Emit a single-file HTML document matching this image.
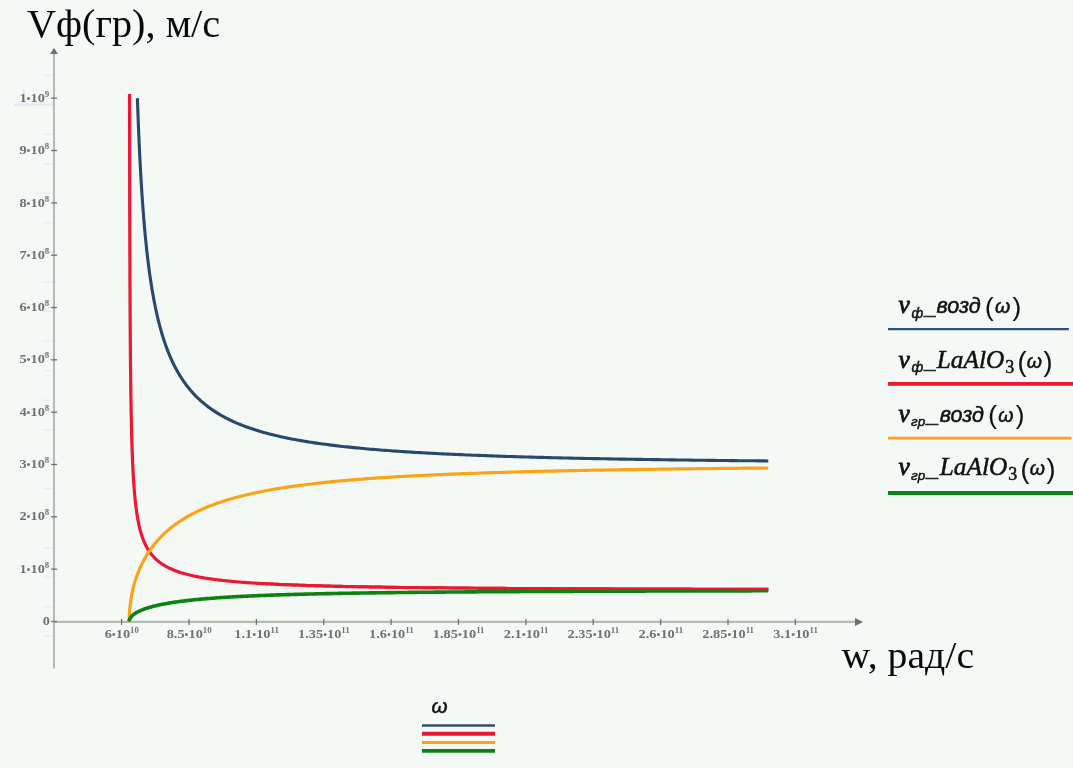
<!DOCTYPE html>
<html lang="ru"><head><meta charset="utf-8"><title>Vф(гр)</title>
<style>
html,body{margin:0;padding:0;background:#f5f9f6;}
body{width:1073px;height:768px;overflow:hidden;position:relative;}
svg{position:absolute;left:0;top:0;display:block;}
.tk{font-family:"Liberation Serif","DejaVu Serif",serif;font-weight:bold;font-size:13.4px;fill:#6f7271;}
.ttl{font-family:"Liberation Serif","DejaVu Serif",serif;fill:#0a0a0a;}
.mi{font-family:"Liberation Serif","DejaVu Serif",serif;font-style:italic;}
.si{font-family:"Liberation Sans","DejaVu Sans",sans-serif;font-style:italic;}
.lg{fill:#111;}
</style></head><body>
<svg width="1073" height="768" viewBox="0 0 1073 768">
<rect x="0" y="0" width="1073" height="768" fill="#f5f9f6"/>

<g stroke="#e6eef5" stroke-width="1.4" fill="none">
<line x1="43" y1="75.3" x2="53" y2="75.3"/>
<line x1="43" y1="134.4" x2="53" y2="134.4"/>
<line x1="43" y1="163.9" x2="53" y2="163.9"/>
<line x1="34" y1="193.4" x2="53" y2="193.4"/>
<line x1="43" y1="222.9" x2="53" y2="222.9"/>
<line x1="43" y1="252.5" x2="53" y2="252.5"/>
<line x1="43" y1="282.0" x2="53" y2="282.0"/>
<line x1="43" y1="311.5" x2="53" y2="311.5"/>
<line x1="43" y1="341.1" x2="53" y2="341.1"/>
<line x1="43" y1="370.6" x2="53" y2="370.6"/>
<line x1="43" y1="400.1" x2="53" y2="400.1"/>
<line x1="43" y1="429.7" x2="53" y2="429.7"/>
<line x1="43" y1="459.2" x2="53" y2="459.2"/>
<line x1="43" y1="488.7" x2="53" y2="488.7"/>
<line x1="43" y1="518.2" x2="53" y2="518.2"/>
<line x1="43" y1="547.8" x2="53" y2="547.8"/>
<line x1="43" y1="577.3" x2="53" y2="577.3"/>
<line x1="43" y1="606.8" x2="53" y2="606.8"/>
<line x1="43" y1="636.4" x2="53" y2="636.4"/>
</g>
<line x1="14" y1="104.6" x2="53" y2="104.6" stroke="#dde8f3" stroke-width="2"/>
<line x1="24" y1="88.5" x2="24" y2="106" stroke="#dde8f3" stroke-width="1.6"/>
<g stroke="#b5bab7" stroke-width="2.05" fill="none">
<line x1="54" y1="54" x2="54" y2="668.5"/>
<line x1="54" y1="621.85" x2="855.5" y2="621.85"/>
</g>
<g stroke="#707371" stroke-width="1.3" fill="none">
<line x1="51.1" y1="621.5" x2="57.1" y2="621.5"/>
<line x1="51.1" y1="569.2" x2="57.1" y2="569.2"/>
<line x1="51.1" y1="516.8" x2="57.1" y2="516.8"/>
<line x1="51.1" y1="464.5" x2="57.1" y2="464.5"/>
<line x1="51.1" y1="412.2" x2="57.1" y2="412.2"/>
<line x1="51.1" y1="359.8" x2="57.1" y2="359.8"/>
<line x1="51.1" y1="307.5" x2="57.1" y2="307.5"/>
<line x1="51.1" y1="255.2" x2="57.1" y2="255.2"/>
<line x1="51.1" y1="202.9" x2="57.1" y2="202.9"/>
<line x1="51.1" y1="150.5" x2="57.1" y2="150.5"/>
<line x1="51.1" y1="98.2" x2="57.1" y2="98.2"/>
<line x1="121.6" y1="619" x2="121.6" y2="624.9"/>
<line x1="189.0" y1="619" x2="189.0" y2="624.9"/>
<line x1="256.4" y1="619" x2="256.4" y2="624.9"/>
<line x1="323.7" y1="619" x2="323.7" y2="624.9"/>
<line x1="391.1" y1="619" x2="391.1" y2="624.9"/>
<line x1="458.5" y1="619" x2="458.5" y2="624.9"/>
<line x1="525.9" y1="619" x2="525.9" y2="624.9"/>
<line x1="593.2" y1="619" x2="593.2" y2="624.9"/>
<line x1="660.6" y1="619" x2="660.6" y2="624.9"/>
<line x1="728.0" y1="619" x2="728.0" y2="624.9"/>
<line x1="795.4" y1="619" x2="795.4" y2="624.9"/>
</g>
<polygon points="54,47.7 57.9,54.1 50.1,54.1" fill="#6c706e"/>
<polygon points="863,621.9 855,618 855,625.9" fill="#6c706e"/>
<text class="tk" transform="translate(49.3,101.8) scale(1.070,1)" text-anchor="end">1<tspan font-size="10.5">•</tspan>10<tspan font-size="8.3" dy="-5">9</tspan></text>
<text class="tk" transform="translate(49.3,154.1) scale(1.070,1)" text-anchor="end">9<tspan font-size="10.5">•</tspan>10<tspan font-size="8.3" dy="-5">8</tspan></text>
<text class="tk" transform="translate(49.3,206.5) scale(1.070,1)" text-anchor="end">8<tspan font-size="10.5">•</tspan>10<tspan font-size="8.3" dy="-5">8</tspan></text>
<text class="tk" transform="translate(49.3,258.8) scale(1.070,1)" text-anchor="end">7<tspan font-size="10.5">•</tspan>10<tspan font-size="8.3" dy="-5">8</tspan></text>
<text class="tk" transform="translate(49.3,311.1) scale(1.070,1)" text-anchor="end">6<tspan font-size="10.5">•</tspan>10<tspan font-size="8.3" dy="-5">8</tspan></text>
<text class="tk" transform="translate(49.3,363.4) scale(1.070,1)" text-anchor="end">5<tspan font-size="10.5">•</tspan>10<tspan font-size="8.3" dy="-5">8</tspan></text>
<text class="tk" transform="translate(49.3,415.8) scale(1.070,1)" text-anchor="end">4<tspan font-size="10.5">•</tspan>10<tspan font-size="8.3" dy="-5">8</tspan></text>
<text class="tk" transform="translate(49.3,468.1) scale(1.070,1)" text-anchor="end">3<tspan font-size="10.5">•</tspan>10<tspan font-size="8.3" dy="-5">8</tspan></text>
<text class="tk" transform="translate(49.3,520.4) scale(1.070,1)" text-anchor="end">2<tspan font-size="10.5">•</tspan>10<tspan font-size="8.3" dy="-5">8</tspan></text>
<text class="tk" transform="translate(49.3,572.8) scale(1.070,1)" text-anchor="end">1<tspan font-size="10.5">•</tspan>10<tspan font-size="8.3" dy="-5">8</tspan></text>
<text class="tk" transform="translate(49.8,624.6) scale(1.070,1)" text-anchor="end">0</text>
<text class="tk" transform="translate(121.8,638.0) scale(1.070,1)" text-anchor="middle">6<tspan font-size="10.5">•</tspan>10<tspan font-size="8.3" dy="-5">10</tspan></text>
<text class="tk" transform="translate(189.2,638.0) scale(1.070,1)" text-anchor="middle">8.5<tspan font-size="10.5">•</tspan>10<tspan font-size="8.3" dy="-5">10</tspan></text>
<text class="tk" transform="translate(256.6,638.0) scale(1.070,1)" text-anchor="middle">1.1<tspan font-size="10.5">•</tspan>10<tspan font-size="8.3" dy="-5">11</tspan></text>
<text class="tk" transform="translate(323.9,638.0) scale(1.070,1)" text-anchor="middle">1.35<tspan font-size="10.5">•</tspan>10<tspan font-size="8.3" dy="-5">11</tspan></text>
<text class="tk" transform="translate(391.3,638.0) scale(1.070,1)" text-anchor="middle">1.6<tspan font-size="10.5">•</tspan>10<tspan font-size="8.3" dy="-5">11</tspan></text>
<text class="tk" transform="translate(458.7,638.0) scale(1.070,1)" text-anchor="middle">1.85<tspan font-size="10.5">•</tspan>10<tspan font-size="8.3" dy="-5">11</tspan></text>
<text class="tk" transform="translate(526.1,638.0) scale(1.070,1)" text-anchor="middle">2.1<tspan font-size="10.5">•</tspan>10<tspan font-size="8.3" dy="-5">11</tspan></text>
<text class="tk" transform="translate(593.4,638.0) scale(1.070,1)" text-anchor="middle">2.35<tspan font-size="10.5">•</tspan>10<tspan font-size="8.3" dy="-5">11</tspan></text>
<text class="tk" transform="translate(660.8,638.0) scale(1.070,1)" text-anchor="middle">2.6<tspan font-size="10.5">•</tspan>10<tspan font-size="8.3" dy="-5">11</tspan></text>
<text class="tk" transform="translate(728.2,638.0) scale(1.070,1)" text-anchor="middle">2.85<tspan font-size="10.5">•</tspan>10<tspan font-size="8.3" dy="-5">11</tspan></text>
<text class="tk" transform="translate(795.6,638.0) scale(1.070,1)" text-anchor="middle">3.1<tspan font-size="10.5">•</tspan>10<tspan font-size="8.3" dy="-5">11</tspan></text>
<g fill="none" stroke-linejoin="round" stroke-linecap="butt">
<path d="M129.53,94.01 L129.53,94.02 L129.53,94.08 L129.53,94.25 L129.53,94.57 L129.53,95.10 L129.53,95.89 L129.54,96.98 L129.54,98.43 L129.54,100.26 L129.54,102.53 L129.55,105.26 L129.55,108.48 L129.55,112.20 L129.56,116.44 L129.57,121.21 L129.57,126.49 L129.58,132.27 L129.59,138.54 L129.60,145.27 L129.61,152.43 L129.63,159.97 L129.64,167.86 L129.65,176.05 L129.67,184.49 L129.69,193.14 L129.71,201.96 L129.73,210.89 L129.75,219.89 L129.78,228.93 L129.80,237.96 L129.83,246.95 L129.86,255.87 L129.89,264.70 L129.92,273.40 L129.96,281.97 L130.00,290.38 L130.04,298.62 L130.08,306.67 L130.12,314.54 L130.17,322.21 L130.22,329.67 L130.27,336.93 L130.33,343.99 L130.38,350.84 L130.44,357.48 L130.50,363.92 L130.57,370.17 L130.64,376.21 L130.71,382.07 L130.78,387.73 L130.86,393.22 L130.94,398.52 L131.02,403.65 L131.10,408.62 L131.19,413.42 L131.29,418.07 L131.38,422.56 L131.48,426.90 L131.58,431.11 L131.69,435.17 L131.80,439.11 L131.91,442.92 L132.03,446.60 L132.15,450.17 L132.27,453.63 L132.40,456.97 L132.53,460.21 L132.67,463.35 L132.81,466.39 L132.96,469.34 L133.10,472.19 L133.26,474.96 L133.42,477.65 L133.58,480.25 L133.74,482.78 L133.91,485.23 L134.09,487.61 L134.27,489.92 L134.45,492.16 L134.64,494.34 L134.84,496.46 L135.04,498.52 L135.24,500.52 L135.45,502.46 L135.66,504.35 L135.88,506.19 L136.10,507.97 L136.33,509.71 L136.57,511.41 L136.81,513.05 L137.05,514.66 L137.30,516.22 L137.56,517.74 L137.82,519.22 L138.09,520.66 L138.36,522.07 L138.64,523.44 L138.93,524.77 L139.22,526.08 L139.51,527.35 L139.82,528.59 L140.12,529.79 L140.44,530.97 L140.76,532.12 L141.09,533.25 L141.42,534.34 L141.76,535.41 L142.11,536.46 L142.46,537.48 L142.82,538.48 L143.18,539.45 L143.55,540.40 L143.93,541.33 L144.32,542.24 L144.71,543.13 L145.11,544.00 L145.52,544.85 L145.93,545.68 L146.35,546.49 L146.78,547.28 L147.21,548.06 L147.66,548.82 L148.11,549.56 L148.56,550.29 L149.03,551.00 L149.50,551.70 L149.98,552.38 L150.46,553.05 L150.96,553.71 L151.46,554.35 L151.97,554.97 L152.49,555.59 L153.01,556.19 L153.55,556.78 L154.09,557.36 L154.64,557.93 L155.20,558.48 L155.76,559.02 L156.34,559.56 L156.92,560.08 L157.51,560.59 L158.11,561.09 L158.72,561.59 L159.33,562.07 L159.96,562.54 L160.59,563.01 L161.24,563.46 L161.89,563.91 L162.55,564.34 L163.22,564.77 L163.90,565.20 L164.58,565.61 L165.28,566.02 L165.98,566.41 L166.70,566.80 L167.42,567.19 L168.16,567.56 L168.90,567.93 L169.65,568.30 L170.41,568.65 L171.19,569.00 L171.97,569.34 L172.76,569.68 L173.56,570.01 L174.37,570.34 L175.19,570.66 L176.02,570.97 L176.86,571.28 L177.71,571.58 L178.57,571.88 L179.44,572.17 L180.32,572.45 L181.21,572.74 L182.11,573.01 L183.02,573.28 L183.95,573.55 L184.88,573.81 L185.82,574.07 L186.78,574.32 L187.74,574.57 L188.72,574.82 L189.70,575.06 L190.70,575.29 L191.71,575.52 L192.73,575.75 L193.76,575.98 L194.80,576.20 L195.85,576.41 L196.92,576.63 L197.99,576.84 L199.08,577.04 L200.18,577.24 L201.28,577.44 L202.41,577.64 L203.54,577.83 L204.68,578.02 L205.84,578.21 L207.01,578.39 L208.19,578.57 L209.38,578.75 L210.58,578.92 L211.80,579.09 L213.03,579.26 L214.27,579.42 L215.52,579.59 L216.78,579.75 L218.06,579.90 L219.35,580.06 L220.65,580.21 L221.96,580.36 L223.29,580.51 L224.63,580.65 L225.98,580.80 L227.35,580.94 L228.72,581.07 L230.12,581.21 L231.52,581.34 L232.94,581.47 L234.36,581.60 L235.81,581.73 L237.26,581.86 L238.73,581.98 L240.21,582.10 L241.71,582.22 L243.22,582.34 L244.74,582.45 L246.28,582.57 L247.83,582.68 L249.39,582.79 L250.97,582.90 L252.56,583.00 L254.16,583.11 L255.78,583.21 L257.41,583.31 L259.06,583.41 L260.72,583.51 L262.40,583.61 L264.09,583.70 L265.79,583.80 L267.51,583.89 L269.24,583.98 L270.98,584.07 L272.75,584.16 L274.52,584.25 L276.31,584.33 L278.12,584.42 L279.93,584.50 L281.77,584.58 L283.62,584.66 L285.48,584.74 L287.36,584.82 L289.25,584.89 L291.16,584.97 L293.09,585.04 L295.03,585.12 L296.98,585.19 L298.95,585.26 L300.94,585.33 L302.94,585.40 L304.95,585.46 L306.99,585.53 L309.03,585.60 L311.10,585.66 L313.18,585.72 L315.27,585.79 L317.38,585.85 L319.51,585.91 L321.65,585.97 L323.81,586.03 L325.98,586.09 L328.17,586.14 L330.38,586.20 L332.60,586.25 L334.84,586.31 L337.10,586.36 L339.37,586.42 L341.66,586.47 L343.97,586.52 L346.29,586.57 L348.63,586.62 L350.99,586.67 L353.36,586.72 L355.75,586.76 L358.15,586.81 L360.58,586.86 L363.02,586.90 L365.48,586.95 L367.95,586.99 L370.44,587.03 L372.95,587.08 L375.48,587.12 L378.02,587.16 L380.59,587.20 L383.17,587.24 L385.76,587.28 L388.38,587.32 L391.01,587.36 L393.66,587.40 L396.33,587.43 L399.01,587.47 L401.72,587.51 L404.44,587.54 L407.18,587.58 L409.94,587.61 L412.71,587.65 L415.51,587.68 L418.32,587.71 L421.15,587.75 L424.00,587.78 L426.87,587.81 L429.76,587.84 L432.66,587.87 L435.59,587.90 L438.53,587.93 L441.49,587.96 L444.47,587.99 L447.47,588.02 L450.49,588.05 L453.53,588.07 L456.58,588.10 L459.66,588.13 L462.75,588.15 L465.87,588.18 L469.00,588.21 L472.15,588.23 L475.33,588.26 L478.52,588.28 L481.73,588.31 L484.96,588.33 L488.21,588.35 L491.48,588.38 L494.77,588.40 L498.08,588.42 L501.41,588.44 L504.76,588.47 L508.13,588.49 L511.52,588.51 L514.93,588.53 L518.36,588.55 L521.82,588.57 L525.29,588.59 L528.78,588.61 L532.29,588.63 L535.82,588.65 L539.38,588.67 L542.95,588.69 L546.55,588.71 L550.16,588.72 L553.80,588.74 L557.46,588.76 L561.14,588.78 L564.83,588.79 L568.56,588.81 L572.30,588.83 L576.06,588.84 L579.84,588.86 L583.65,588.88 L587.48,588.89 L591.32,588.91 L595.19,588.92 L599.09,588.94 L603.00,588.95 L606.93,588.97 L610.89,588.98 L614.87,589.00 L618.87,589.01 L622.89,589.02 L626.93,589.04 L631.00,589.05 L635.09,589.07 L639.20,589.08 L643.33,589.09 L647.48,589.10 L651.66,589.12 L655.86,589.13 L660.08,589.14 L664.33,589.15 L668.59,589.17 L672.88,589.18 L677.20,589.19 L681.53,589.20 L685.89,589.21 L690.27,589.22 L694.67,589.23 L699.10,589.24 L703.55,589.25 L708.02,589.27 L712.52,589.28 L717.04,589.29 L721.58,589.30 L726.15,589.31 L730.74,589.32 L735.35,589.33 L739.98,589.34 L744.64,589.34 L749.33,589.35 L754.04,589.36 L758.77,589.37 L763.52,589.38 L768.30,589.39" stroke="#ea1833" stroke-width="3.2"/>
<path d="M129.23,621.50 L129.23,621.45 L129.23,621.35 L129.23,621.22 L129.23,621.07 L129.23,620.90 L129.23,620.71 L129.24,620.50 L129.24,620.28 L129.24,620.04 L129.24,619.80 L129.25,619.53 L129.25,619.26 L129.25,618.97 L129.26,618.68 L129.27,618.37 L129.27,618.05 L129.28,617.72 L129.29,617.38 L129.30,617.04 L129.31,616.68 L129.32,616.31 L129.34,615.94 L129.35,615.56 L129.37,615.16 L129.39,614.77 L129.41,614.36 L129.43,613.94 L129.45,613.52 L129.48,613.09 L129.50,612.65 L129.53,612.21 L129.56,611.75 L129.59,611.30 L129.62,610.83 L129.66,610.36 L129.70,609.88 L129.74,609.39 L129.78,608.90 L129.82,608.40 L129.87,607.90 L129.92,607.39 L129.97,606.87 L130.03,606.35 L130.08,605.82 L130.14,605.29 L130.20,604.75 L130.27,604.21 L130.34,603.66 L130.41,603.10 L130.48,602.54 L130.56,601.98 L130.64,601.41 L130.72,600.83 L130.80,600.25 L130.89,599.67 L130.99,599.08 L131.08,598.49 L131.18,597.89 L131.28,597.29 L131.39,596.68 L131.50,596.07 L131.61,595.45 L131.73,594.83 L131.85,594.21 L131.97,593.58 L132.10,592.95 L132.24,592.32 L132.37,591.68 L132.51,591.04 L132.66,590.39 L132.81,589.75 L132.96,589.09 L133.12,588.44 L133.28,587.78 L133.44,587.12 L133.62,586.46 L133.79,585.79 L133.97,585.12 L134.16,584.45 L134.34,583.77 L134.54,583.09 L134.74,582.41 L134.94,581.73 L135.15,581.05 L135.36,580.36 L135.58,579.67 L135.81,578.98 L136.04,578.29 L136.27,577.59 L136.51,576.89 L136.76,576.19 L137.01,575.49 L137.26,574.79 L137.53,574.09 L137.79,573.38 L138.07,572.68 L138.35,571.97 L138.63,571.26 L138.92,570.55 L139.22,569.84 L139.52,569.13 L139.83,568.42 L140.14,567.71 L140.46,566.99 L140.79,566.28 L141.12,565.57 L141.46,564.85 L141.81,564.14 L142.16,563.42 L142.52,562.71 L142.89,561.99 L143.26,561.28 L143.64,560.56 L144.03,559.85 L144.42,559.13 L144.82,558.42 L145.22,557.70 L145.64,556.99 L146.06,556.28 L146.49,555.56 L146.92,554.85 L147.36,554.14 L147.81,553.43 L148.27,552.72 L148.73,552.02 L149.21,551.31 L149.69,550.60 L150.17,549.90 L150.67,549.20 L151.17,548.50 L151.68,547.80 L152.20,547.10 L152.72,546.40 L153.26,545.71 L153.80,545.02 L154.35,544.32 L154.91,543.64 L155.47,542.95 L156.05,542.26 L156.63,541.58 L157.22,540.90 L157.82,540.22 L158.43,539.55 L159.05,538.87 L159.67,538.20 L160.31,537.53 L160.95,536.86 L161.60,536.20 L162.26,535.54 L162.93,534.88 L163.61,534.23 L164.30,533.57 L165.00,532.92 L165.70,532.28 L166.42,531.63 L167.14,530.99 L167.87,530.35 L168.62,529.72 L169.37,529.09 L170.13,528.46 L170.90,527.83 L171.69,527.21 L172.48,526.59 L173.28,525.98 L174.09,525.37 L174.91,524.76 L175.74,524.15 L176.58,523.55 L177.43,522.95 L178.29,522.36 L179.16,521.77 L180.04,521.18 L180.93,520.60 L181.84,520.02 L182.75,519.44 L183.67,518.87 L184.60,518.30 L185.55,517.74 L186.50,517.18 L187.47,516.62 L188.44,516.07 L189.43,515.52 L190.43,514.97 L191.44,514.43 L192.46,513.89 L193.49,513.36 L194.53,512.83 L195.58,512.31 L196.65,511.78 L197.72,511.27 L198.81,510.75 L199.91,510.24 L201.02,509.74 L202.14,509.24 L203.27,508.74 L204.42,508.25 L205.57,507.76 L206.74,507.27 L207.92,506.79 L209.12,506.31 L210.32,505.84 L211.54,505.37 L212.76,504.91 L214.00,504.45 L215.26,503.99 L216.52,503.54 L217.80,503.09 L219.09,502.64 L220.39,502.20 L221.71,501.77 L223.03,501.34 L224.37,500.91 L225.73,500.48 L227.09,500.06 L228.47,499.65 L229.86,499.23 L231.27,498.82 L232.68,498.42 L234.11,498.02 L235.56,497.62 L237.01,497.23 L238.48,496.84 L239.97,496.45 L241.46,496.07 L242.97,495.70 L244.50,495.32 L246.03,494.95 L247.58,494.59 L249.15,494.22 L250.72,493.87 L252.32,493.51 L253.92,493.16 L255.54,492.81 L257.17,492.47 L258.82,492.13 L260.48,491.79 L262.16,491.46 L263.85,491.13 L265.55,490.80 L267.27,490.48 L269.00,490.16 L270.75,489.85 L272.51,489.54 L274.29,489.23 L276.08,488.92 L277.88,488.62 L279.70,488.32 L281.54,488.03 L283.39,487.74 L285.25,487.45 L287.13,487.16 L289.03,486.88 L290.94,486.60 L292.86,486.33 L294.80,486.06 L296.76,485.79 L298.73,485.52 L300.72,485.26 L302.72,485.00 L304.74,484.74 L306.77,484.49 L308.82,484.24 L310.88,483.99 L312.96,483.74 L315.06,483.50 L317.17,483.26 L319.30,483.03 L321.44,482.79 L323.60,482.56 L325.78,482.34 L327.97,482.11 L330.18,481.89 L332.40,481.67 L334.64,481.45 L336.90,481.24 L339.17,481.03 L341.46,480.82 L343.77,480.61 L346.09,480.41 L348.43,480.20 L350.79,480.00 L353.16,479.81 L355.55,479.61 L357.96,479.42 L360.39,479.23 L362.83,479.05 L365.29,478.86 L367.76,478.68 L370.26,478.50 L372.77,478.32 L375.29,478.15 L377.84,477.97 L380.40,477.80 L382.98,477.63 L385.58,477.47 L388.20,477.30 L390.83,477.14 L393.48,476.98 L396.15,476.82 L398.84,476.66 L401.54,476.51 L404.27,476.36 L407.01,476.20 L409.77,476.06 L412.54,475.91 L415.34,475.76 L418.15,475.62 L420.99,475.48 L423.84,475.34 L426.71,475.20 L429.60,475.07 L432.50,474.93 L435.43,474.80 L438.37,474.67 L441.34,474.54 L444.32,474.41 L447.32,474.29 L450.34,474.16 L453.38,474.04 L456.43,473.92 L459.51,473.80 L462.61,473.68 L465.72,473.57 L468.86,473.45 L472.01,473.34 L475.19,473.23 L478.38,473.12 L481.59,473.01 L484.83,472.90 L488.08,472.80 L491.35,472.69 L494.64,472.59 L497.95,472.49 L501.29,472.39 L504.64,472.29 L508.01,472.19 L511.40,472.09 L514.81,472.00 L518.25,471.90 L521.70,471.81 L525.17,471.72 L528.67,471.63 L532.18,471.54 L535.71,471.45 L539.27,471.36 L542.85,471.28 L546.44,471.19 L550.06,471.11 L553.70,471.03 L557.36,470.95 L561.04,470.87 L564.74,470.79 L568.46,470.71 L572.20,470.63 L575.97,470.56 L579.76,470.48 L583.56,470.41 L587.39,470.33 L591.24,470.26 L595.11,470.19 L599.01,470.12 L602.92,470.05 L606.86,469.98 L610.82,469.92 L614.80,469.85 L618.80,469.78 L622.82,469.72 L626.87,469.65 L630.93,469.59 L635.02,469.53 L639.14,469.47 L643.27,469.41 L647.43,469.35 L651.61,469.29 L655.81,469.23 L660.03,469.17 L664.28,469.11 L668.55,469.06 L672.84,469.00 L677.15,468.95 L681.49,468.89 L685.85,468.84 L690.23,468.79 L694.64,468.74 L699.07,468.68 L703.52,468.63 L707.99,468.58 L712.49,468.54 L717.01,468.49 L721.56,468.44 L726.13,468.39 L730.72,468.34 L735.33,468.30 L739.97,468.25 L744.63,468.21 L749.32,468.16 L754.03,468.12 L758.76,468.08 L763.52,468.03 L768.30,467.99" stroke="#fba516" stroke-width="3.2"/>
<path d="M129.23,621.50 L129.23,621.49 L129.23,621.47 L129.23,621.44 L129.23,621.41 L129.23,621.38 L129.23,621.34 L129.24,621.30 L129.24,621.26 L129.24,621.21 L129.24,621.16 L129.25,621.11 L129.25,621.05 L129.25,620.99 L129.26,620.94 L129.27,620.87 L129.27,620.81 L129.28,620.74 L129.29,620.68 L129.30,620.61 L129.31,620.54 L129.32,620.46 L129.34,620.39 L129.35,620.31 L129.37,620.23 L129.39,620.15 L129.41,620.07 L129.43,619.99 L129.45,619.90 L129.48,619.82 L129.50,619.73 L129.53,619.64 L129.56,619.55 L129.59,619.46 L129.62,619.37 L129.66,619.27 L129.70,619.18 L129.74,619.08 L129.78,618.98 L129.82,618.88 L129.87,618.78 L129.92,618.68 L129.97,618.57 L130.03,618.47 L130.08,618.36 L130.14,618.26 L130.20,618.15 L130.27,618.04 L130.34,617.93 L130.41,617.82 L130.48,617.71 L130.56,617.60 L130.64,617.48 L130.72,617.37 L130.80,617.25 L130.89,617.13 L130.99,617.02 L131.08,616.90 L131.18,616.78 L131.28,616.66 L131.39,616.54 L131.50,616.41 L131.61,616.29 L131.73,616.17 L131.85,616.04 L131.97,615.92 L132.10,615.79 L132.24,615.66 L132.37,615.54 L132.51,615.41 L132.66,615.28 L132.81,615.15 L132.96,615.02 L133.12,614.89 L133.28,614.76 L133.44,614.62 L133.62,614.49 L133.79,614.36 L133.97,614.22 L134.16,614.09 L134.34,613.95 L134.54,613.82 L134.74,613.68 L134.94,613.55 L135.15,613.41 L135.36,613.27 L135.58,613.13 L135.81,613.00 L136.04,612.86 L136.27,612.72 L136.51,612.58 L136.76,612.44 L137.01,612.30 L137.26,612.16 L137.53,612.02 L137.79,611.88 L138.07,611.74 L138.35,611.59 L138.63,611.45 L138.92,611.31 L139.22,611.17 L139.52,611.03 L139.83,610.88 L140.14,610.74 L140.46,610.60 L140.79,610.46 L141.12,610.31 L141.46,610.17 L141.81,610.03 L142.16,609.88 L142.52,609.74 L142.89,609.60 L143.26,609.46 L143.64,609.31 L144.03,609.17 L144.42,609.03 L144.82,608.88 L145.22,608.74 L145.64,608.60 L146.06,608.46 L146.49,608.31 L146.92,608.17 L147.36,608.03 L147.81,607.89 L148.27,607.74 L148.73,607.60 L149.21,607.46 L149.69,607.32 L150.17,607.18 L150.67,607.04 L151.17,606.90 L151.68,606.76 L152.20,606.62 L152.72,606.48 L153.26,606.34 L153.80,606.20 L154.35,606.06 L154.91,605.93 L155.47,605.79 L156.05,605.65 L156.63,605.52 L157.22,605.38 L157.82,605.24 L158.43,605.11 L159.05,604.97 L159.67,604.84 L160.31,604.71 L160.95,604.57 L161.60,604.44 L162.26,604.31 L162.93,604.18 L163.61,604.05 L164.30,603.91 L165.00,603.78 L165.70,603.66 L166.42,603.53 L167.14,603.40 L167.87,603.27 L168.62,603.14 L169.37,603.02 L170.13,602.89 L170.90,602.77 L171.69,602.64 L172.48,602.52 L173.28,602.40 L174.09,602.27 L174.91,602.15 L175.74,602.03 L176.58,601.91 L177.43,601.79 L178.29,601.67 L179.16,601.55 L180.04,601.44 L180.93,601.32 L181.84,601.20 L182.75,601.09 L183.67,600.97 L184.60,600.86 L185.55,600.75 L186.50,600.64 L187.47,600.52 L188.44,600.41 L189.43,600.30 L190.43,600.19 L191.44,600.09 L192.46,599.98 L193.49,599.87 L194.53,599.77 L195.58,599.66 L196.65,599.56 L197.72,599.45 L198.81,599.35 L199.91,599.25 L201.02,599.15 L202.14,599.05 L203.27,598.95 L204.42,598.85 L205.57,598.75 L206.74,598.65 L207.92,598.56 L209.12,598.46 L210.32,598.37 L211.54,598.27 L212.76,598.18 L214.00,598.09 L215.26,598.00 L216.52,597.91 L217.80,597.82 L219.09,597.73 L220.39,597.64 L221.71,597.55 L223.03,597.47 L224.37,597.38 L225.73,597.30 L227.09,597.21 L228.47,597.13 L229.86,597.05 L231.27,596.96 L232.68,596.88 L234.11,596.80 L235.56,596.72 L237.01,596.65 L238.48,596.57 L239.97,596.49 L241.46,596.41 L242.97,596.34 L244.50,596.26 L246.03,596.19 L247.58,596.12 L249.15,596.04 L250.72,595.97 L252.32,595.90 L253.92,595.83 L255.54,595.76 L257.17,595.69 L258.82,595.63 L260.48,595.56 L262.16,595.49 L263.85,595.43 L265.55,595.36 L267.27,595.30 L269.00,595.23 L270.75,595.17 L272.51,595.11 L274.29,595.05 L276.08,594.98 L277.88,594.92 L279.70,594.86 L281.54,594.81 L283.39,594.75 L285.25,594.69 L287.13,594.63 L289.03,594.58 L290.94,594.52 L292.86,594.47 L294.80,594.41 L296.76,594.36 L298.73,594.30 L300.72,594.25 L302.72,594.20 L304.74,594.15 L306.77,594.10 L308.82,594.05 L310.88,594.00 L312.96,593.95 L315.06,593.90 L317.17,593.85 L319.30,593.81 L321.44,593.76 L323.60,593.71 L325.78,593.67 L327.97,593.62 L330.18,593.58 L332.40,593.53 L334.64,593.49 L336.90,593.45 L339.17,593.41 L341.46,593.36 L343.77,593.32 L346.09,593.28 L348.43,593.24 L350.79,593.20 L353.16,593.16 L355.55,593.12 L357.96,593.08 L360.39,593.05 L362.83,593.01 L365.29,592.97 L367.76,592.94 L370.26,592.90 L372.77,592.86 L375.29,592.83 L377.84,592.79 L380.40,592.76 L382.98,592.73 L385.58,592.69 L388.20,592.66 L390.83,592.63 L393.48,592.60 L396.15,592.56 L398.84,592.53 L401.54,592.50 L404.27,592.47 L407.01,592.44 L409.77,592.41 L412.54,592.38 L415.34,592.35 L418.15,592.32 L420.99,592.30 L423.84,592.27 L426.71,592.24 L429.60,592.21 L432.50,592.19 L435.43,592.16 L438.37,592.13 L441.34,592.11 L444.32,592.08 L447.32,592.06 L450.34,592.03 L453.38,592.01 L456.43,591.98 L459.51,591.96 L462.61,591.94 L465.72,591.91 L468.86,591.89 L472.01,591.87 L475.19,591.85 L478.38,591.82 L481.59,591.80 L484.83,591.78 L488.08,591.76 L491.35,591.74 L494.64,591.72 L497.95,591.70 L501.29,591.68 L504.64,591.66 L508.01,591.64 L511.40,591.62 L514.81,591.60 L518.25,591.58 L521.70,591.56 L525.17,591.54 L528.67,591.53 L532.18,591.51 L535.71,591.49 L539.27,591.47 L542.85,591.46 L546.44,591.44 L550.06,591.42 L553.70,591.41 L557.36,591.39 L561.04,591.37 L564.74,591.36 L568.46,591.34 L572.20,591.33 L575.97,591.31 L579.76,591.30 L583.56,591.28 L587.39,591.27 L591.24,591.25 L595.11,591.24 L599.01,591.22 L602.92,591.21 L606.86,591.20 L610.82,591.18 L614.80,591.17 L618.80,591.16 L622.82,591.14 L626.87,591.13 L630.93,591.12 L635.02,591.11 L639.14,591.09 L643.27,591.08 L647.43,591.07 L651.61,591.06 L655.81,591.05 L660.03,591.03 L664.28,591.02 L668.55,591.01 L672.84,591.00 L677.15,590.99 L681.49,590.98 L685.85,590.97 L690.23,590.96 L694.64,590.95 L699.07,590.94 L703.52,590.93 L707.99,590.92 L712.49,590.91 L717.01,590.90 L721.56,590.89 L726.13,590.88 L730.72,590.87 L735.33,590.86 L739.97,590.85 L744.63,590.84 L749.32,590.83 L754.03,590.82 L758.76,590.82 L763.52,590.81 L768.30,590.80" stroke="#0c8211" stroke-width="3.6"/>
<path d="M260.00,583.47 L260.00,583.47 L260.00,583.47 L260.01,583.47 L260.03,583.47 L260.06,583.47 L260.11,583.48 L260.17,583.48 L260.26,583.48 L260.37,583.49 L260.51,583.50 L260.68,583.51 L260.88,583.52 L261.12,583.54 L261.39,583.55 L261.72,583.57 L262.08,583.59 L262.50,583.61 L262.96,583.64 L263.49,583.67 L264.07,583.70 L264.71,583.74 L265.41,583.78 L266.18,583.82 L267.03,583.87 L267.94,583.91 L268.93,583.97 L270.00,584.02 L271.16,584.08 L272.40,584.14 L273.72,584.21 L275.14,584.28 L276.66,584.35 L278.27,584.42 L279.98,584.50 L281.79,584.58 L283.72,584.66 L285.75,584.75 L287.89,584.84 L290.15,584.93 L292.53,585.02 L295.03,585.12 L297.66,585.21 L300.41,585.31 L303.30,585.41 L306.32,585.51 L309.48,585.61 L312.77,585.71 L316.21,585.81 L319.80,585.92 L323.54,586.02 L327.43,586.12 L331.47,586.23 L335.67,586.33 L340.04,586.43 L344.57,586.53 L349.27,586.63 L354.13,586.73 L359.18,586.83 L364.39,586.93 L369.79,587.02 L375.37,587.12 L381.14,587.21 L387.10,587.30 L393.25,587.39 L399.59,587.48 L406.13,587.56 L412.88,587.65 L419.83,587.73 L426.98,587.81 L434.35,587.89 L441.93,587.96 L449.72,588.04 L457.74,588.11 L465.98,588.18 L474.44,588.25 L483.13,588.32 L492.06,588.38 L501.21,588.44 L510.61,588.50 L520.25,588.56 L530.13,588.62 L540.26,588.67 L550.64,588.73 L561.27,588.78 L572.16,588.83 L583.31,588.88 L594.72,588.92 L606.39,588.97 L618.34,589.01 L630.55,589.05 L643.04,589.09 L655.81,589.13 L668.85,589.17 L682.19,589.20 L695.80,589.24 L709.71,589.27 L723.91,589.30 L738.41,589.33 L753.20,589.36 L768.30,589.39" stroke="#ea1833" stroke-width="2.4" transform="translate(0,-0.4)"/>
<path d="M137.41,98.20 L137.41,98.20 L137.41,98.20 L137.41,98.21 L137.41,98.22 L137.41,98.24 L137.41,98.26 L137.41,98.30 L137.41,98.35 L137.42,98.41 L137.42,98.49 L137.42,98.59 L137.43,98.71 L137.43,98.84 L137.44,99.00 L137.44,99.19 L137.45,99.40 L137.46,99.64 L137.47,99.90 L137.48,100.20 L137.49,100.53 L137.50,100.90 L137.51,101.30 L137.53,101.74 L137.54,102.21 L137.56,102.73 L137.58,103.28 L137.60,103.88 L137.62,104.52 L137.65,105.21 L137.67,105.94 L137.70,106.72 L137.73,107.55 L137.76,108.42 L137.80,109.34 L137.83,110.32 L137.87,111.34 L137.91,112.42 L137.95,113.55 L137.99,114.73 L138.04,115.96 L138.09,117.24 L138.14,118.58 L138.19,119.97 L138.25,121.41 L138.31,122.91 L138.37,124.45 L138.43,126.05 L138.50,127.70 L138.57,129.40 L138.64,131.15 L138.72,132.95 L138.79,134.80 L138.88,136.70 L138.96,138.65 L139.05,140.64 L139.14,142.67 L139.23,144.75 L139.33,146.87 L139.43,149.03 L139.54,151.24 L139.65,153.48 L139.76,155.76 L139.87,158.07 L139.99,160.42 L140.12,162.80 L140.24,165.21 L140.37,167.65 L140.51,170.12 L140.65,172.62 L140.79,175.14 L140.94,177.69 L141.09,180.25 L141.24,182.84 L141.40,185.44 L141.57,188.06 L141.74,190.70 L141.91,193.35 L142.09,196.01 L142.27,198.68 L142.46,201.36 L142.65,204.05 L142.84,206.74 L143.04,209.44 L143.25,212.14 L143.46,214.84 L143.68,217.54 L143.90,220.25 L144.13,222.95 L144.36,225.64 L144.59,228.33 L144.84,231.02 L145.08,233.70 L145.34,236.37 L145.60,239.03 L145.86,241.68 L146.13,244.32 L146.40,246.95 L146.69,249.56 L146.97,252.16 L147.27,254.75 L147.56,257.32 L147.87,259.88 L148.18,262.42 L148.50,264.95 L148.82,267.45 L149.15,269.94 L149.48,272.41 L149.83,274.86 L150.17,277.29 L150.53,279.70 L150.89,282.09 L151.26,284.46 L151.63,286.80 L152.01,289.13 L152.40,291.43 L152.79,293.72 L153.20,295.98 L153.60,298.22 L154.02,300.43 L154.44,302.62 L154.87,304.79 L155.31,306.94 L155.75,309.07 L156.20,311.17 L156.66,313.25 L157.13,315.30 L157.60,317.33 L158.08,319.34 L158.57,321.33 L159.07,323.29 L159.57,325.23 L160.08,327.15 L160.60,329.05 L161.13,330.92 L161.66,332.77 L162.20,334.59 L162.76,336.40 L163.31,338.18 L163.88,339.94 L164.46,341.68 L165.04,343.39 L165.63,345.08 L166.23,346.76 L166.84,348.41 L167.46,350.03 L168.09,351.64 L168.72,353.23 L169.36,354.80 L170.02,356.34 L170.68,357.87 L171.35,359.37 L172.03,360.86 L172.71,362.32 L173.41,363.76 L174.12,365.19 L174.83,366.60 L175.56,367.98 L176.29,369.35 L177.03,370.70 L177.79,372.03 L178.55,373.35 L179.32,374.64 L180.10,375.92 L180.89,377.18 L181.69,378.42 L182.50,379.64 L183.32,380.85 L184.15,382.04 L184.99,383.22 L185.84,384.37 L186.70,385.51 L187.57,386.64 L188.45,387.75 L189.34,388.84 L190.24,389.92 L191.15,390.98 L192.07,392.03 L193.00,393.07 L193.95,394.08 L194.90,395.09 L195.86,396.08 L196.84,397.05 L197.82,398.02 L198.82,398.96 L199.82,399.90 L200.84,400.82 L201.87,401.73 L202.91,402.62 L203.96,403.51 L205.02,404.37 L206.10,405.23 L207.18,406.08 L208.28,406.91 L209.38,407.73 L210.50,408.54 L211.63,409.34 L212.77,410.12 L213.93,410.90 L215.09,411.66 L216.27,412.41 L217.46,413.15 L218.66,413.88 L219.87,414.60 L221.10,415.31 L222.33,416.01 L223.58,416.70 L224.84,417.38 L226.12,418.05 L227.40,418.71 L228.70,419.36 L230.01,420.00 L231.33,420.63 L232.67,421.25 L234.02,421.87 L235.38,422.47 L236.75,423.06 L238.14,423.65 L239.54,424.23 L240.95,424.80 L242.37,425.36 L243.81,425.91 L245.26,426.46 L246.73,427.00 L248.20,427.53 L249.69,428.05 L251.20,428.56 L252.71,429.07 L254.24,429.57 L255.79,430.06 L257.35,430.55 L258.92,431.03 L260.50,431.50 L262.10,431.96 L263.71,432.42 L265.34,432.87 L266.98,433.31 L268.63,433.75 L270.30,434.18 L271.98,434.61 L273.68,435.03 L275.39,435.44 L277.12,435.85 L278.86,436.25 L280.61,436.64 L282.38,437.03 L284.16,437.42 L285.96,437.79 L287.77,438.17 L289.59,438.53 L291.43,438.90 L293.29,439.25 L295.16,439.60 L297.05,439.95 L298.95,440.29 L300.86,440.63 L302.79,440.96 L304.74,441.29 L306.70,441.61 L308.68,441.93 L310.67,442.24 L312.67,442.55 L314.70,442.85 L316.73,443.15 L318.79,443.44 L320.86,443.74 L322.94,444.02 L325.04,444.30 L327.16,444.58 L329.29,444.86 L331.44,445.13 L333.60,445.39 L335.78,445.66 L337.98,445.91 L340.19,446.17 L342.42,446.42 L344.66,446.67 L346.92,446.91 L349.20,447.15 L351.49,447.39 L353.80,447.62 L356.13,447.85 L358.47,448.08 L360.83,448.31 L363.21,448.53 L365.60,448.74 L368.02,448.96 L370.44,449.17 L372.89,449.38 L375.35,449.58 L377.83,449.78 L380.32,449.98 L382.84,450.18 L385.37,450.37 L387.91,450.56 L390.48,450.75 L393.06,450.94 L395.66,451.12 L398.28,451.30 L400.91,451.48 L403.57,451.65 L406.24,451.83 L408.92,452.00 L411.63,452.16 L414.35,452.33 L417.10,452.49 L419.86,452.65 L422.63,452.81 L425.43,452.97 L428.25,453.12 L431.08,453.27 L433.93,453.42 L436.80,453.57 L439.69,453.71 L442.59,453.86 L445.52,454.00 L448.46,454.14 L451.42,454.27 L454.41,454.41 L457.41,454.54 L460.42,454.67 L463.46,454.80 L466.52,454.93 L469.59,455.06 L472.69,455.18 L475.80,455.30 L478.94,455.42 L482.09,455.54 L485.26,455.66 L488.45,455.78 L491.66,455.89 L494.89,456.00 L498.14,456.11 L501.41,456.22 L504.70,456.33 L508.01,456.44 L511.34,456.54 L514.69,456.64 L518.06,456.75 L521.45,456.85 L524.85,456.94 L528.28,457.04 L531.73,457.14 L535.20,457.23 L538.69,457.33 L542.20,457.42 L545.73,457.51 L549.28,457.60 L552.85,457.69 L556.44,457.78 L560.06,457.86 L563.69,457.95 L567.34,458.03 L571.02,458.11 L574.71,458.19 L578.43,458.27 L582.17,458.35 L585.93,458.43 L589.71,458.51 L593.51,458.58 L597.33,458.66 L601.17,458.73 L605.04,458.81 L608.92,458.88 L612.83,458.95 L616.76,459.02 L620.71,459.09 L624.68,459.16 L628.68,459.22 L632.69,459.29 L636.73,459.35 L640.79,459.42 L644.87,459.48 L648.97,459.54 L653.10,459.61 L657.25,459.67 L661.42,459.73 L665.61,459.79 L669.82,459.84 L674.06,459.90 L678.32,459.96 L682.60,460.01 L686.90,460.07 L691.23,460.12 L695.58,460.18 L699.95,460.23 L704.35,460.28 L708.77,460.34 L713.21,460.39 L717.67,460.44 L722.16,460.49 L726.67,460.54 L731.20,460.58 L735.75,460.63 L740.33,460.68 L744.94,460.73 L749.56,460.77 L754.21,460.82 L758.88,460.86 L763.58,460.90 L768.30,460.95" stroke="#28486c" stroke-width="3.1"/>
</g>
<text class="ttl" transform="translate(26.9,37.4) scale(1.022,1)" font-size="39.4">Vф(гр), м/с</text>
<text class="ttl" transform="translate(841.6,668.4) scale(1.03,1)" font-size="38.6">w, рад/с</text>
<text class="si lg" x="431.4" y="713" font-size="20.6" stroke="#111" stroke-width="0.5">ω</text>
<line x1="422" y1="725.5" x2="495" y2="725.5" stroke="#2f4f74" stroke-width="2.6"/>
<line x1="422" y1="733.8" x2="495" y2="733.8" stroke="#ea1833" stroke-width="3.9"/>
<line x1="422" y1="742.4" x2="495" y2="742.4" stroke="#fba516" stroke-width="3"/>
<line x1="422" y1="750.9" x2="495" y2="750.9" stroke="#0c8211" stroke-width="3.9"/>
<g class="lg" stroke="#111" stroke-width="0.5">
<text x="898.4" y="313.3" style="font-family:&quot;Liberation Serif&quot;,serif;font-style:italic;font-size:25.5px" stroke-width="0.8">v</text>
<text x="911.5" y="317.7" style="font-family:&quot;Liberation Sans&quot;,sans-serif;font-style:italic;font-size:14px">ф</text>
<text x="925.2" y="313.6" style="font-family:&quot;Liberation Sans&quot;,sans-serif;font-style:italic;font-size:21px">_</text>
<text x="936.5" y="313.3" style="font-family:&quot;Liberation Sans&quot;,sans-serif;font-style:italic;font-size:21.9px" textLength="44.2" lengthAdjust="spacingAndGlyphs">возд</text>
<text x="985.0" y="315.9" style="font-family:&quot;Liberation Sans&quot;,sans-serif;font-size:26px" stroke-width="0.15">(</text>
<text x="995.0" y="313.3" style="font-family:&quot;Liberation Sans&quot;,sans-serif;font-style:italic;font-size:19.5px">ω</text>
<text x="1012.6" y="315.9" style="font-family:&quot;Liberation Sans&quot;,sans-serif;font-size:26px" stroke-width="0.15">)</text>
<text x="898.4" y="367.6" style="font-family:&quot;Liberation Serif&quot;,serif;font-style:italic;font-size:25.5px" stroke-width="0.8">v</text>
<text x="911.5" y="372.0" style="font-family:&quot;Liberation Sans&quot;,sans-serif;font-style:italic;font-size:14px">ф</text>
<text x="925.2" y="367.9" style="font-family:&quot;Liberation Sans&quot;,sans-serif;font-style:italic;font-size:21px">_</text>
<text x="936.7" y="367.6" style="font-family:&quot;Liberation Serif&quot;,serif;font-style:italic;font-size:24.5px" textLength="67.6" lengthAdjust="spacingAndGlyphs">LaAlO</text>
<text x="1005.3" y="372.5" style="font-family:&quot;Liberation Serif&quot;,serif;font-size:18px">3</text>
<text x="1017.4" y="370.5" style="font-family:&quot;Liberation Sans&quot;,sans-serif;font-size:27px" stroke-width="0.15">(</text>
<text x="1026.7" y="367.6" style="font-family:&quot;Liberation Sans&quot;,sans-serif;font-style:italic;font-size:19.5px">ω</text>
<text x="1043.4" y="370.5" style="font-family:&quot;Liberation Sans&quot;,sans-serif;font-size:27px" stroke-width="0.15">)</text>
<text x="898.4" y="421.8" style="font-family:&quot;Liberation Serif&quot;,serif;font-style:italic;font-size:25.5px" stroke-width="0.8">v</text>
<text x="911.0" y="426.1" style="font-family:&quot;Liberation Sans&quot;,sans-serif;font-style:italic;font-size:13.5px">гр</text>
<text x="927.3" y="422.3" style="font-family:&quot;Liberation Sans&quot;,sans-serif;font-style:italic;font-size:22px">_</text>
<text x="939.7" y="421.8" style="font-family:&quot;Liberation Sans&quot;,sans-serif;font-style:italic;font-size:21.9px" textLength="44.2" lengthAdjust="spacingAndGlyphs">возд</text>
<text x="988.2" y="424.4" style="font-family:&quot;Liberation Sans&quot;,sans-serif;font-size:26px" stroke-width="0.15">(</text>
<text x="998.2" y="421.8" style="font-family:&quot;Liberation Sans&quot;,sans-serif;font-style:italic;font-size:19.5px">ω</text>
<text x="1015.8" y="424.4" style="font-family:&quot;Liberation Sans&quot;,sans-serif;font-size:26px" stroke-width="0.15">)</text>
<text x="898.4" y="475.4" style="font-family:&quot;Liberation Serif&quot;,serif;font-style:italic;font-size:25.5px" stroke-width="0.8">v</text>
<text x="911.0" y="479.7" style="font-family:&quot;Liberation Sans&quot;,sans-serif;font-style:italic;font-size:13.5px">гр</text>
<text x="927.3" y="475.9" style="font-family:&quot;Liberation Sans&quot;,sans-serif;font-style:italic;font-size:22px">_</text>
<text x="939.7" y="475.4" style="font-family:&quot;Liberation Serif&quot;,serif;font-style:italic;font-size:24.5px" textLength="67.6" lengthAdjust="spacingAndGlyphs">LaAlO</text>
<text x="1008.3" y="480.3" style="font-family:&quot;Liberation Serif&quot;,serif;font-size:18px">3</text>
<text x="1020.4" y="478.3" style="font-family:&quot;Liberation Sans&quot;,sans-serif;font-size:27px" stroke-width="0.15">(</text>
<text x="1029.7" y="475.4" style="font-family:&quot;Liberation Sans&quot;,sans-serif;font-style:italic;font-size:19.5px">ω</text>
<text x="1046.4" y="478.3" style="font-family:&quot;Liberation Sans&quot;,sans-serif;font-size:27px" stroke-width="0.15">)</text>
</g>
<line x1="888" y1="329.1" x2="1068.8" y2="329.1" stroke="#2f4f74" stroke-width="2.3"/>
<line x1="888" y1="383.8" x2="1073.0" y2="383.8" stroke="#ea1833" stroke-width="3.8"/>
<line x1="888" y1="438.2" x2="1071.5" y2="438.2" stroke="#fba516" stroke-width="2.7"/>
<line x1="888" y1="492.9" x2="1073.0" y2="492.9" stroke="#0c8211" stroke-width="4.0"/>
</svg></body></html>
